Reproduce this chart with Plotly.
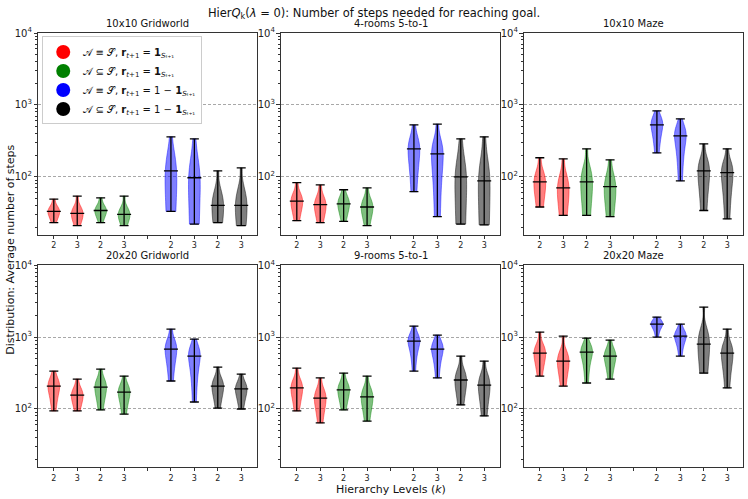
import numpy as np
import plotly.graph_objects as go
from plotly.subplots import make_subplots

# panel titles, in subplot order (row by row)
panel_titles = ["10x10 Gridworld", "4-rooms 5-to-1", "10x10 Maze",
                "20x20 Gridworld", "9-rooms 5-to-1", "20x20 Maze"]

# x positions of the violins and tick labels (k = hierarchy levels)
positions = [1, 2, 3, 4, 6, 7, 8, 9]
tick_pos = [1, 2, 3, 4, 5, 6, 7, 8, 9]
tick_text = ["2", "3", "2", "3", "", "2", "3", "2", "3"]

# setting of each violin, in order of the positions
setting_of_violin = [0, 0, 1, 1, 2, 2, 3, 3]
setting_names = [
    "𝒜 ≡ 𝒮, <b>r</b><sub><i>t</i>+1</sub> = <b>1</b><sub><i>S</i>ₜ₊₁</sub>",
    "𝒜 ⊆ 𝒮, <b>r</b><sub><i>t</i>+1</sub> = <b>1</b><sub><i>S</i>ₜ₊₁</sub>",
    "𝒜 ≡ 𝒮, <b>r</b><sub><i>t</i>+1</sub> = 1 − <b>1</b><sub><i>S</i>ₜ₊₁</sub>",
    "𝒜 ⊆ 𝒮, <b>r</b><sub><i>t</i>+1</sub> = 1 − <b>1</b><sub><i>S</i>ₜ₊₁</sub>",
]
setting_colors = ["255,0,0", "0,128,0", "0,0,255", "0,0,0"]

# average number of steps per run (samples)
gridworld_10 = [
    [23, 27, 30, 32, 33, 34, 36, 40, 49],
    [21, 25, 28, 30, 31, 32, 35, 40, 54],
    [23, 28, 31, 33, 34, 35, 37, 42, 51],
    [21, 25, 28, 29, 30, 31, 34, 39, 54],
    [33, 40, 55, 80, 121, 150, 190, 250, 360],
    [22, 30, 45, 70, 97, 130, 170, 240, 337],
    [23, 27, 31, 36, 40, 45, 55, 75, 121],
    [21, 26, 30, 35, 40, 46, 56, 80, 133],
]
rooms4 = [
    [24.5, 33, 39, 43, 46, 49, 53, 62, 83],
    [23, 30, 35, 38, 41, 44, 48, 57, 77],
    [24, 31, 36, 40, 42, 45, 49, 55, 66],
    [21, 28, 33, 36, 38, 41, 45, 53, 70],
    [62, 120, 180, 220, 245, 270, 310, 390, 527],
    [28, 90, 150, 190, 208, 230, 270, 360, 540],
    [22, 30, 45, 70, 100, 130, 170, 240, 337],
    [21.5, 28, 40, 60, 88, 120, 170, 250, 360],
]
maze_10 = [
    [38, 50, 65, 78, 85, 92, 105, 130, 184],
    [29, 40, 52, 62, 70, 78, 92, 120, 178],
    [29, 45, 62, 76, 85, 95, 115, 150, 245],
    [28, 40, 52, 64, 73, 82, 96, 125, 172],
    [215, 330, 420, 490, 527, 560, 610, 690, 826],
    [88, 200, 280, 340, 371, 400, 440, 510, 639],
    [34, 60, 90, 110, 121, 132, 150, 190, 287],
    [26, 55, 85, 105, 114, 124, 138, 170, 245],
]
gridworld_20 = [
    [94, 140, 175, 195, 208, 220, 240, 275, 337],
    [94, 118, 135, 148, 156, 165, 180, 205, 261],
    [97, 138, 170, 190, 202, 215, 235, 275, 359],
    [85, 120, 145, 162, 172, 182, 198, 225, 287],
    [245, 420, 550, 630, 681, 730, 810, 950, 1292],
    [125, 300, 420, 500, 545, 590, 650, 750, 938],
    [103, 145, 175, 197, 208, 220, 240, 280, 383],
    [100, 135, 160, 180, 190, 200, 215, 245, 306],
]
rooms9 = [
    [94, 135, 165, 185, 196, 208, 228, 265, 371],
    [64, 95, 118, 133, 142, 152, 168, 198, 270],
    [97, 130, 158, 175, 184, 195, 212, 245, 316],
    [68, 100, 122, 138, 147, 157, 174, 205, 287],
    [337, 600, 750, 840, 880, 920, 990, 1120, 1423],
    [270, 450, 570, 640, 681, 720, 780, 880, 1067],
    [114, 165, 210, 238, 253, 270, 300, 370, 545],
    [80, 130, 175, 200, 215, 232, 260, 320, 464],
]
maze_20 = [
    [287, 420, 510, 570, 600, 630, 690, 800, 1172],
    [208, 320, 395, 440, 464, 490, 540, 640, 1033],
    [230, 400, 520, 590, 619, 650, 700, 790, 968],
    [261, 380, 460, 515, 545, 575, 625, 720, 908],
    [1000, 1250, 1380, 1470, 1517, 1560, 1620, 1720, 1897],
    [545, 780, 910, 990, 1033, 1075, 1140, 1260, 1517],
    [316, 500, 650, 750, 800, 860, 980, 1300, 2610],
    [196, 360, 480, 560, 600, 640, 710, 850, 1292],
]
panel_data = [gridworld_10, rooms4, maze_10, gridworld_20, rooms9, maze_20]

FONT = "DejaVu Sans"

fig = make_subplots(rows=2, cols=3, horizontal_spacing=0.034, vertical_spacing=0.07)

for p, data in enumerate(panel_data):
    row, col = p // 3 + 1, p % 3 + 1
    for pos, samples, s in zip(positions, data, setting_of_violin):
        rgb = setting_colors[s]
        arr = np.array(samples, dtype=float)
        # Scott's rule, like matplotlib's violinplot
        bw = arr.std(ddof=1) * len(arr) ** (-0.2)
        fig.add_trace(go.Violin(
            x0=pos, y=samples, width=0.5, scalemode="width", spanmode="hard",
            bandwidth=bw,
            points=False, box_visible=False, meanline_visible=False,
            fillcolor="rgba(%s,0.5)" % rgb, line=dict(color="rgba(%s,0.55)" % rgb, width=0.8),
            showlegend=False, hoverinfo="y",
        ), row=row, col=col)
        med = float(np.median(arr))
        # min/max whisker with caps and the median bar
        fig.add_trace(go.Scatter(
            x=[pos], y=[med], mode="markers",
            marker=dict(symbol="line-ew", size=10, line=dict(color="black", width=1.3)),
            error_y=dict(type="data", symmetric=False, array=[arr.max() - med],
                         arrayminus=[med - arr.min()], color="black", thickness=1.3, width=4.5),
            showlegend=False, hoverinfo="skip",
        ), row=row, col=col)

# legend entries
for name, rgb in zip(setting_names, setting_colors):
    fig.add_trace(go.Scatter(x=[None], y=[None], mode="markers", name=name,
                             marker=dict(size=14, color="rgb(%s)" % rgb)), row=1, col=1)

fig.update_xaxes(range=[0.325, 9.675], tickvals=tick_pos, ticktext=tick_text,
                 ticks="outside", ticklen=3, tickcolor="#333", showgrid=False, zeroline=False,
                 showline=True, linecolor="#333", linewidth=1, mirror=True,
                 tickfont=dict(size=8, color="#222"))
fig.update_yaxes(type="log", range=[np.log10(15.6), 4], dtick=1, exponentformat="power",
                 ticks="outside", ticklen=3.5, tickcolor="#333",
                 minor=dict(ticks="outside", ticklen=2, tickcolor="#333", showgrid=False),
                 showgrid=True, gridcolor="#a8a8a8", griddash="3px,2px", gridwidth=0.7,
                 zeroline=False, showline=True, linecolor="#333", linewidth=1, mirror=True,
                 tickfont=dict(size=8, color="#222"))

# panel titles
annotations = []
for p, t in enumerate(panel_titles):
    xa = fig.layout["xaxis" + ("" if p == 0 else str(p + 1))]
    ya = fig.layout["yaxis" + ("" if p == 0 else str(p + 1))]
    annotations.append(dict(text=t, xref="paper", yref="paper",
                            x=(xa.domain[0] + xa.domain[1]) / 2, y=ya.domain[1],
                            xanchor="center", yanchor="bottom", yshift=2, showarrow=False,
                            font=dict(size=10, color="#111")))
annotations.append(dict(text="Distribution: Average number of steps", xref="paper", yref="paper",
                        x=-0.04, y=0.5, xanchor="center", yanchor="middle", textangle=-90,
                        showarrow=False, font=dict(size=11, color="#111")))
annotations.append(dict(text="Hierarchy Levels (<i>k</i>)", xref="paper", yref="paper",
                        x=0.5, y=-0.052, xanchor="center", yanchor="middle",
                        showarrow=False, font=dict(size=11, color="#111")))

fig.update_layout(
    width=748, height=499,
    margin=dict(l=38, r=5, t=33, b=32),
    paper_bgcolor="white", plot_bgcolor="white",
    font=dict(family=FONT, color="#111"),
    violinmode="overlay",
    title=dict(text="Hier<i>Q</i><sub>k</sub>(<i>λ</i> = 0): Number of steps needed for reaching goal.",
               x=0.5, xanchor="center", y=0.975, yanchor="middle", font=dict(size=11.5)),
    annotations=annotations,
    legend=dict(x=0.006, y=0.992, xanchor="left", yanchor="top", bgcolor="white",
                bordercolor="#cccccc", borderwidth=1, font=dict(size=10), itemsizing="trace",
                tracegroupgap=0, itemwidth=30),
)

# drop the page's default body margin so the figure sits at the top-left corner
fig.write_html("out.html", config={"displayModeBar": False},
               post_script="document.body.style.margin = '0px';")
